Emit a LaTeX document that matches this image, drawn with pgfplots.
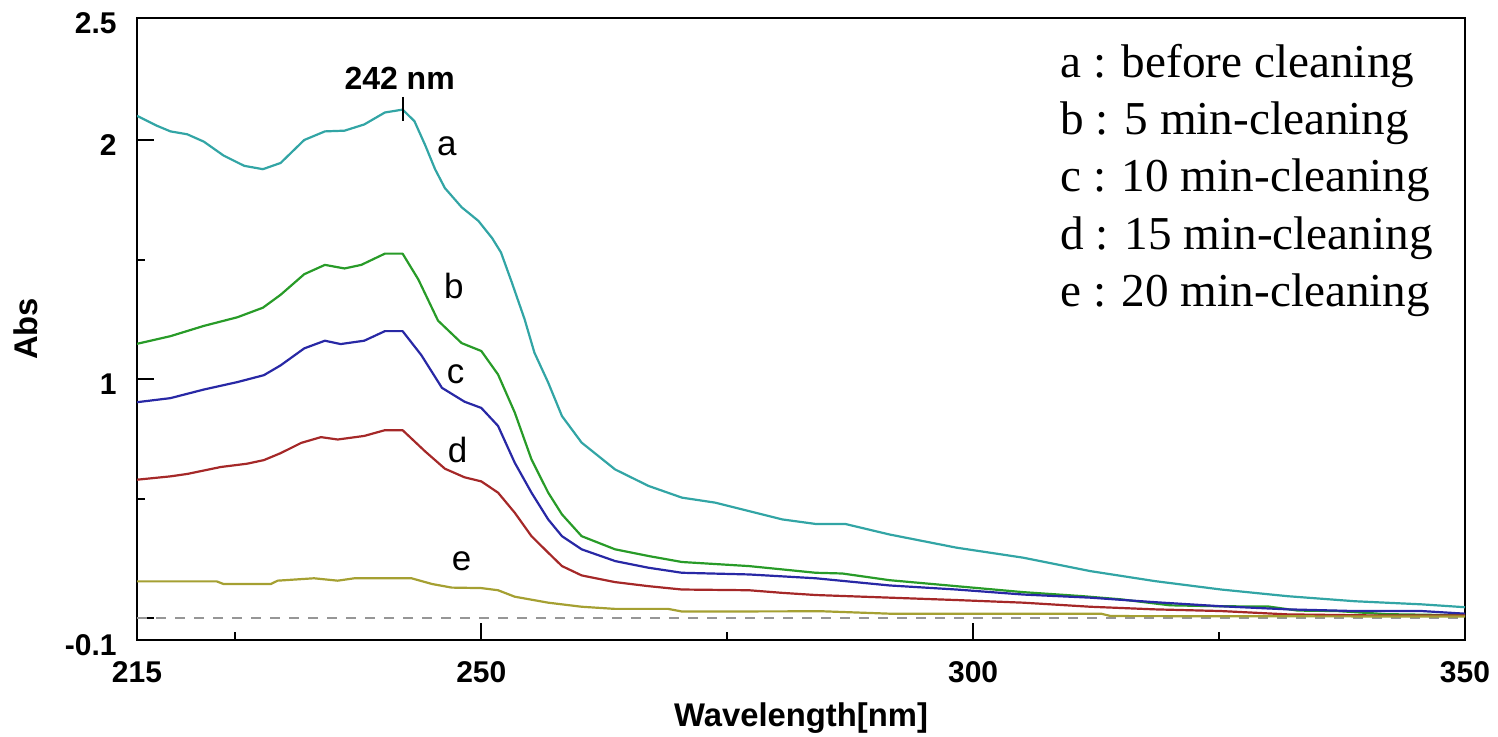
\documentclass[border=0pt]{standalone}
\usepackage{fontspec}
\setmainfont{Liberation Serif}
\setsansfont{Liberation Sans}
\usepackage{pgfplots}
\pgfplotsset{compat=1.18}
\definecolor{ca}{RGB}{50,165,165}
\definecolor{cb}{RGB}{40,155,40}
\definecolor{cc}{RGB}{40,40,165}
\definecolor{cd}{RGB}{165,40,40}
\definecolor{ce}{RGB}{165,160,50}
\definecolor{cdash}{RGB}{150,150,150}
\begin{document}
\begin{tikzpicture}
\useasboundingbox (-68.5pt,-48.5pt) rectangle (680.5pt,320pt);
\begin{axis}[
 scale only axis, width=664pt, height=311pt,
 xmin=215, xmax=350, ymin=-0.09, ymax=2.51,
 axis line style={line width=1.2pt, black},
 tick pos=left, tick align=inside,
 xtick={215,250,300,350}, xticklabels={215,250,300,350},
 minor xtick={225,275,325},
 ytick={-0.09,0,1,2,2.51}, yticklabels={-0.1,,1,2,2.5},
 minor ytick={0.5,1.5},
 major tick length=8.5pt, minor tick length=4pt,
 every tick/.style={black, line width=1pt},
 ticklabel style={font=\sffamily\bfseries\fontsize{15}{18}\selectfont},
 yticklabel style={anchor=east, inner sep=0pt, xshift=-10pt, yshift=-2.5pt},
 xticklabel style={anchor=north, inner sep=0pt, yshift=-10.5pt},
 xlabel={Wavelength[nm]}, ylabel={Abs},
 label style={font=\sffamily\bfseries\fontsize{16.4}{19}\selectfont},
 xlabel style={at={(axis description cs:0.5,-0.1254)}, anchor=center},
 ylabel style={at={(axis description cs:-0.0836,0.5)}, anchor=center},
 every axis plot/.append style={line width=1.1pt, line join=round, no markers},
]
\addplot[cdash, line width=1pt, dash pattern=on 5pt off 4.5pt] coordinates {(215,0) (350,0)};
% a
\addplot[ca] coordinates {
(215,2.101) (217,2.06) (218.4,2.036) (220.1,2.024) (221.8,1.993) (223.8,1.935)
(225.9,1.892) (227.8,1.878) (229.6,1.904) (231,1.96) (232.0,2.000) (234.1,2.036)
(236.1,2.039) (238.1,2.065) (240.2,2.115) (242.0,2.127) (243.2,2.079) (244.3,1.978)
(245.3,1.878) (246.3,1.799) (248.0,1.719) (249.7,1.662) (251.1,1.59) (252.0,1.530)
(253.1,1.405) (254.4,1.251) (255.4,1.111) (256.8,0.986) (258.2,0.846) (260.2,0.735)
(263.6,0.623) (267.0,0.554) (270.4,0.505) (273.8,0.484) (277.2,0.449) (280.6,0.414)
(284.0,0.395) (287.0,0.395) (291.5,0.351) (298.3,0.296) (305.1,0.254) (311.9,0.198)
(318.5,0.156) (325.2,0.121) (332.0,0.093) (338.8,0.072) (345.6,0.059) (350,0.047)};
% b
\addplot[cb] coordinates {
(215,1.148) (218.4,1.180) (221.8,1.223) (225.2,1.259) (227.8,1.299) (229.6,1.353)
(232.0,1.439) (234.1,1.478) (236.1,1.463) (237.8,1.478) (240.2,1.525) (242.0,1.525)
(243.6,1.417) (245.6,1.245) (248.0,1.151) (250.0,1.118) (251.7,1.02) (253.4,0.861)
(255.1,0.665) (256.8,0.526) (258.2,0.435) (260.2,0.344) (263.6,0.289) (267.0,0.261)
(270.4,0.236) (277.2,0.219) (284.0,0.191) (286.7,0.188) (291.5,0.160) (298.3,0.135)
(305.1,0.110) (311.2,0.093) (315,0.080) (320,0.055) (325,0.051) (330,0.050)
(333,0.033) (337,0.031) (342,0.018) (350,0.013)};
% c
\addplot[cc] coordinates {
(215,0.904) (218.4,0.921) (221.8,0.957) (225.2,0.988) (227.9,1.017) (229.6,1.058)
(232.0,1.129) (234.1,1.161) (235.7,1.147) (238.1,1.161) (240.2,1.201) (242.0,1.201)
(243.9,1.101) (246.0,0.964) (248.3,0.906) (250.0,0.880) (251.7,0.805) (253.4,0.651)
(255.1,0.526) (256.8,0.414) (258.2,0.344) (260.2,0.289) (263.6,0.240) (267.0,0.212)
(270.4,0.191) (277.2,0.184) (284.0,0.168) (291.5,0.138) (298.3,0.121) (305.1,0.100)
(311.9,0.087) (318.5,0.068) (325.2,0.051) (332.0,0.038) (338.8,0.031) (345.6,0.031)
(350,0.020)};
% d
\addplot[cd] coordinates {
(215,0.580) (218.4,0.594) (220.1,0.604) (223.5,0.633) (226.2,0.647) (227.9,0.662)
(229.6,0.691) (231.7,0.734) (233.7,0.758) (235.4,0.748) (238.1,0.763) (240.2,0.787)
(242.0,0.787) (244.3,0.698) (246.3,0.626) (248.3,0.590) (250.0,0.573) (251.7,0.526)
(253.4,0.442) (255.1,0.344) (256.8,0.275) (258.2,0.219) (260.2,0.180) (263.6,0.152)
(267.0,0.135) (270.4,0.121) (277.2,0.118) (280.6,0.107) (284.0,0.098) (291.5,0.087)
(298.3,0.077) (305.1,0.066) (311.9,0.049) (318.5,0.038) (325.2,0.031) (332.0,0.017)
(340,0.013) (350,0.012)};
% e
\addplot[ce] coordinates {
(215,0.155) (223.1,0.155) (223.8,0.144) (228.6,0.144) (229.3,0.158) (233.0,0.168)
(235.4,0.158) (237.1,0.168) (242.9,0.168) (245.0,0.144) (247.0,0.129) (250.0,0.127)
(251.7,0.118) (253.4,0.091) (256.8,0.066) (260.2,0.049) (263.6,0.040) (269.0,0.040)
(270.4,0.029) (284.7,0.030) (291.5,0.020) (313,0.020) (314,0.010) (350,0.008)};
% peak marker
\draw[black, line width=1pt] (axis cs:242,2.180) -- (axis cs:242,2.079);
\node[font=\sffamily\bfseries\fontsize{16}{19}\selectfont, anchor=center] at (axis cs:241.7,2.257) {242 nm};
% curve labels
\begin{scope}[every node/.style={font=\sffamily\fontsize{17.5}{20}\selectfont, anchor=center, inner sep=0pt}]
\node at (axis cs:246.5,1.973) {a};
\node at (axis cs:247.2,1.388) {b};
\node at (axis cs:247.4,1.019) {c};
\node at (axis cs:247.6,0.704) {d};
\node at (axis cs:248.0,0.238) {e};
\end{scope}
% legend text
\begin{scope}[every node/.style={font=\fontsize{23.6}{28.8}\selectfont, anchor=base west, inner sep=0pt}]
\node at (rel axis cs:0.695,0.9051) {a : before cleaning};
\node at (rel axis cs:0.695,0.8127) {b : 5 min-cleaning};
\node at (rel axis cs:0.695,0.7203) {c : 10 min-cleaning};
\node at (rel axis cs:0.695,0.6278) {d : 15 min-cleaning};
\node at (rel axis cs:0.695,0.5354) {e : 20 min-cleaning};
\end{scope}
\end{axis}
\end{tikzpicture}
\end{document}
